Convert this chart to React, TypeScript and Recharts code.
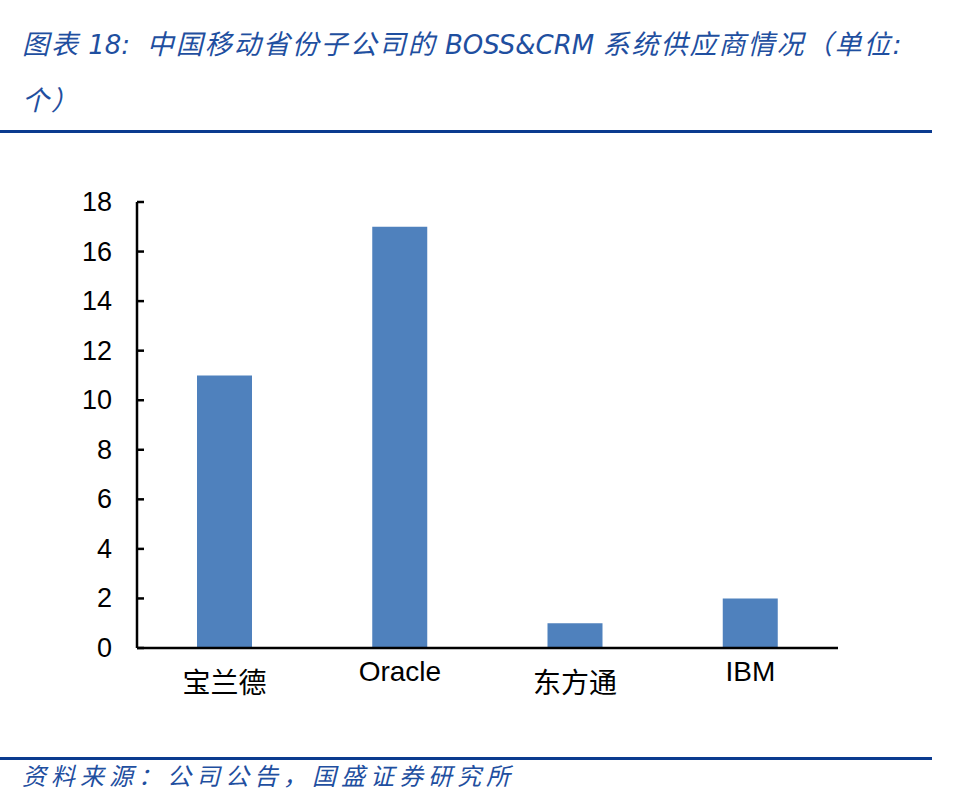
import React from 'react';
import { BarChart, Bar, XAxis, YAxis } from 'recharts';

// vendor counts across provincial subsidiaries
const vendors = ['宝兰德', 'Oracle', '东方通', 'IBM'];
const counts = [11, 17, 1, 2];
const yTicks = [0, 2, 4, 6, 8, 10, 12, 14, 16, 18];

const chartData = vendors.map((name, i) => ({ name, count: counts[i] }));

const BLUE_TEXT = '#1f4fa0';
const RULE = '#0b3b8f';
const AXIS_FONT = '"Liberation Sans", Arial, "Noto Sans CJK SC", sans-serif';
const TITLE_FONT = '"DejaVu Sans", "Noto Sans CJK SC", sans-serif';

// y ticks point inward, to the right of the axis line
const YTick = (props: any) => {
  const { x, y, payload } = props;
  return (
    <g>
      <line x1={x + 25} x2={x + 32} y1={y} y2={y} stroke="#000" strokeWidth={2.5} />
      <text x={x} y={y} dy={9} textAnchor="end" fontSize={27} fontFamily={AXIS_FONT} fill="#000">
        {payload.value}
      </text>
    </g>
  );
};

const isCJK = (s: string) => /[\u4e00-\u9fff]/.test(s);

const XTick = (props: any) => {
  const { x, y, payload } = props;
  const dy = isCJK(payload.value) ? 45 : 33;
  return (
    <text x={x} y={y} dy={dy} textAnchor="middle" fontSize={28} fontFamily={AXIS_FONT} fill="#000">
      {payload.value}
    </text>
  );
};

const titleLine: React.CSSProperties = {
  position: 'absolute',
  left: 22,
  fontFamily: TITLE_FONT,
  fontStyle: 'italic',
  fontSize: 27,
  lineHeight: '30px',
  letterSpacing: 2,
  color: BLUE_TEXT,
  whiteSpace: 'pre',
};

const latin: React.CSSProperties = { fontSize: 26, letterSpacing: 0 };

const App: React.FC = () => {
  return (
    <div style={{ position: 'absolute', left: 0, top: 0, width: 968, height: 799, background: '#fff', overflow: 'hidden' }}>
      <div style={{ ...titleLine, top: 30 }}>
        图表<span style={latin}>{' 18:  '}</span>中国移动省份子公司的<span style={latin}>{' BOSS&CRM '}</span>系统供应商情况（单位:
      </div>
      <div style={{ ...titleLine, top: 86 }}>个）</div>
      <div style={{ position: 'absolute', left: 0, top: 130, width: 932, height: 3, background: RULE }} />

      <div style={{ position: 'absolute', left: 0, top: 0 }}>
        <BarChart
          width={968}
          height={799}
          data={chartData}
          margin={{ top: 202, right: 130, bottom: 121, left: 0 }}
        >
          <XAxis
            dataKey="name"
            height={30}
            axisLine={{ stroke: '#000', strokeWidth: 2.5 }}
            tickLine={false}
            tickSize={0}
            tickMargin={0}
            interval={0}
            tick={<XTick />}
          />
          <YAxis
            width={137}
            domain={[0, 18]}
            ticks={yTicks}
            interval={0}
            axisLine={{ stroke: '#000', strokeWidth: 2.5 }}
            tickLine={false}
            tickSize={0}
            tickMargin={25}
            tick={<YTick />}
          />
          <Bar dataKey="count" fill="#4f81bd" barSize={55} isAnimationActive={false} />
        </BarChart>
      </div>

      <div style={{ position: 'absolute', left: 0, top: 757, width: 932, height: 3, background: RULE }} />
      <div
        style={{
          position: 'absolute',
          left: 22,
          top: 762,
          fontFamily: TITLE_FONT,
          fontStyle: 'italic',
          fontSize: 24,
          lineHeight: '30px',
          letterSpacing: 5,
          color: BLUE_TEXT,
          whiteSpace: 'pre',
        }}
      >
        资料来源：公司公告，国盛证券研究所
      </div>
    </div>
  );
};

export default App;
